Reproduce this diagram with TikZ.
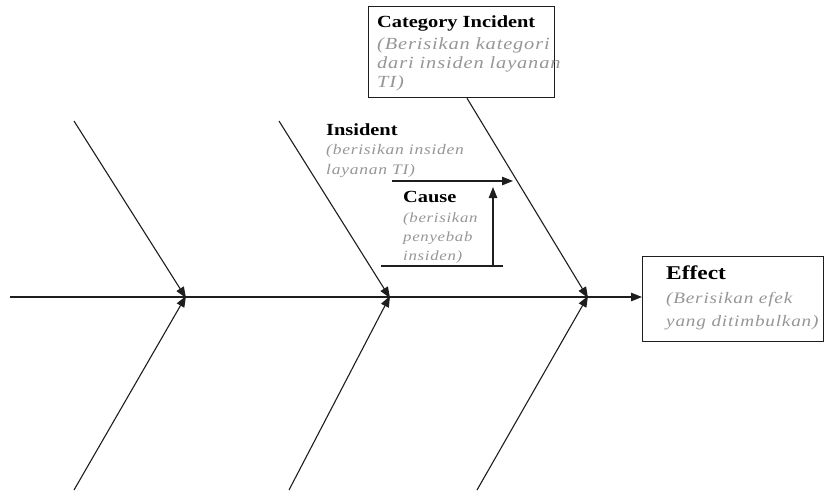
\documentclass[tikz,border=0pt]{standalone}
\usepackage{fontspec}
\setmainfont{Liberation Serif}
\newfontfamily\headfont[FakeStretch=1.2]{Liberation Serif}
\newfontfamily\notefont[FakeStretch=1.2,LetterSpace=5]{Liberation Serif}
\usetikzlibrary{arrows.meta}
\definecolor{notegray}{RGB}{150,150,150}
\definecolor{boneink}{RGB}{30,30,30}
\tikzset{
  bone/.style={draw=boneink, line width=1.1pt},
  bonetip/.style={bone, -{Triangle[length=11pt,width=8.5pt]}},
  labelbox/.style={draw=boneink, line width=1.2pt, inner sep=0pt, anchor=north west},
  note/.style={anchor=north west, inner sep=0pt, align=left},
}
\newcommand{\headtxt}[2]{{\headfont\bfseries\fontsize{#1}{19}\selectfont #2}}
\newcommand{\notetxt}[2]{{\notefont\itshape\color{notegray}\fontsize{#1}{19}\selectfont #2}}
\begin{document}
\begin{tikzpicture}[x=1pt,y=-1pt]
\useasboundingbox (0,0) rectangle (824,499);

% boxes
\node[labelbox, minimum width=186pt, minimum height=91pt] (cat) at (368,6) {};
\node[labelbox, minimum width=181pt, minimum height=85pt] (effect) at (642,256) {};

% spine and junctions
\coordinate (tail) at (10,297);
\coordinate (j1) at (186,297);
\coordinate (j2) at (390,297);
\coordinate (j3) at (588,297);
\draw[bonetip] (tail) -- (effect.west |- tail);

% bone ends
\coordinate (u1) at (74,121);
\coordinate (u2) at (279,121);
\coordinate (u3) at (cat.south -| 467,0);
\coordinate (d1) at (74,490);
\coordinate (d2) at (289,490);
\coordinate (d3) at (477,490);

\draw[bonetip] (u1) -- ([yshift=-1pt]j1);
\draw[bonetip] (d1) -- ([yshift=1pt]j1);
\draw[bonetip] (u2) -- ([yshift=-1pt]j2);
\draw[bonetip] (d2) -- ([yshift=1pt]j2);
\draw[bonetip] (u3) -- ([yshift=-1pt]j3);
\draw[bonetip] (d3) -- ([yshift=1pt]j3);

% incident and cause arrows
\coordinate (insA) at (392,181);
\coordinate (insB) at (513,181);
\coordinate (baseA) at (381,266);
\coordinate (baseB) at (503,266);
\coordinate (causeA) at (493,266);
\coordinate (causeB) at (493,187);
\draw[bonetip] (insA) -- (insB);
\draw[bone] (baseA) -- (baseB);
\draw[bonetip] (causeA) -- (causeB);

% labels
\node[note, font=\fontsize{17}{19}\selectfont] (cattext) at (377,15)
  {\headtxt{17}{Category Incident}\\[3pt]
  \notetxt{17}{(Berisikan kategori}\\
  \notetxt{17}{dari insiden layanan}\\
  \notetxt{17}{TI)}};
\node[note, font=\fontsize{15}{19.5}\selectfont] (instext) at (326,123)
  {\headtxt{17}{Insident}\\
  \notetxt{14.6}{(berisikan insiden}\\
  \notetxt{14.6}{layanan TI)}};
\node[note, font=\fontsize{15}{19}\selectfont] (causetext) at (403,191)
  {\headtxt{17}{Cause}\\[1pt]
  \notetxt{14}{(berisikan}\\
  \notetxt{14}{penyebab}\\
  \notetxt{14}{insiden)}};
\node[note, font=\fontsize{16}{23}\selectfont] (efftext) at (666,266)
  {\headtxt{19.5}{Effect}\\[1pt]
  \notetxt{16}{(Berisikan efek}\\
  \notetxt{16}{yang ditimbulkan)}};
\end{tikzpicture}
\end{document}
